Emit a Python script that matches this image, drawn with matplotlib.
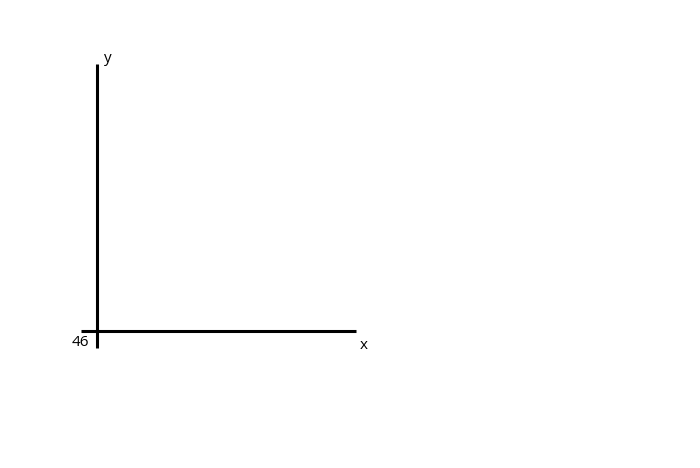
import matplotlib
matplotlib.use('Agg')
import matplotlib.pyplot as plt

# axis layout (in pixel-like data units, origin at the corner)
x_label = 'x'
y_label = 'y'
origin_label = '46'
x_range = [-15.5, 259.5]
y_range = [-17, 267]

fig = plt.figure(figsize=(7, 4.68), dpi=100)
ax = fig.add_axes([81/700, 1-348/468, 275/700, 284/468])
ax.set_xlim(x_range)
ax.set_ylim(y_range)

for s in ['top', 'right']:
    ax.spines[s].set_visible(False)
for s in ['left', 'bottom']:
    ax.spines[s].set_position(('data', 0))
    ax.spines[s].set_linewidth(2.2)
    ax.spines[s].set_capstyle('butt')
ax.set_xticks([])
ax.set_yticks([])

font = dict(family='Open Sans', fontsize=11, color='black')
ax.text(-7, -4, origin_label, ha='right', va='top', clip_on=False, **font)
ax.text(7, 265, y_label, ha='left', va='bottom', clip_on=False, **font)
ax.text(263, -7, x_label, ha='left', va='top', clip_on=False, **font)

fig.savefig('out.png', dpi=100)
